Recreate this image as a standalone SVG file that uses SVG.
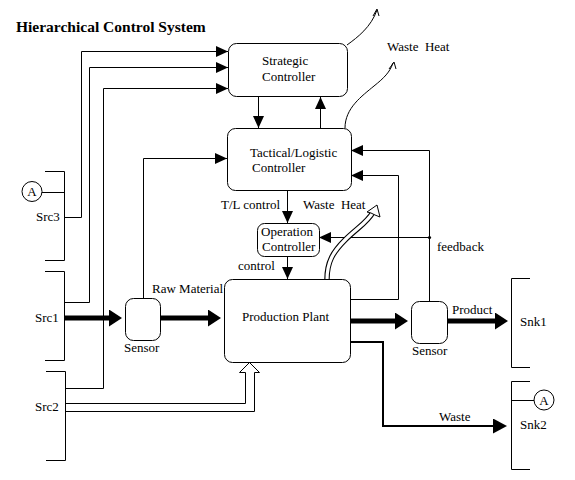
<svg xmlns="http://www.w3.org/2000/svg" width="575" height="480" viewBox="0 0 575 480">
<style>
text{font-family:"Liberation Serif","Times New Roman",serif;font-size:13px;fill:#000}
.title{font-size:15.5px;font-weight:bold}
.box{fill:#fff;stroke:#000;stroke-width:1}
.ln{fill:none;stroke:#000;stroke-width:1}
.thick{fill:none;stroke:#000;stroke-width:5}
.med{fill:none;stroke:#000;stroke-width:2}
</style>
<defs>
<marker id="a" viewBox="0 0 12 11" refX="12" refY="5.5" markerWidth="12" markerHeight="11" markerUnits="userSpaceOnUse" orient="auto"><path d="M0,0 L12,5.5 L0,11 z" fill="#000"/></marker>
<marker id="b" viewBox="0 0 13 17" refX="3" refY="8.5" markerWidth="13" markerHeight="17" markerUnits="userSpaceOnUse" orient="auto"><path d="M0,0 L13,8.5 L0,17 z" fill="#000"/></marker>
<marker id="c" viewBox="0 0 14 15" refX="4" refY="7.5" markerWidth="14" markerHeight="15" markerUnits="userSpaceOnUse" orient="auto"><path d="M0,0 L14,7.5 L0,15 z" fill="#000"/></marker>
</defs>
<rect width="575" height="480" fill="#fff"/>
<text class="title" x="16" y="32">Hierarchical Control System</text>

<g id="connectors">
<path class="ln" d="M64.5,217.5 H81.5 V51.5 H228" marker-end="url(#a)"/>
<path class="ln" d="M64.5,302.5 H89.5 V67.5 H228" marker-end="url(#a)"/>
<path class="ln" d="M65.5,388.5 H103.5 V88.5 H228" marker-end="url(#a)"/>
<path class="ln" d="M143.5,298 V158.5 H227" marker-end="url(#a)"/>
<path class="ln" d="M258.5,97 V128" marker-end="url(#a)"/>
<path class="ln" d="M320.5,128 V97" marker-end="url(#a)"/>
<path class="ln" d="M287.5,191 V223" marker-end="url(#a)"/>
<path class="ln" d="M287.5,256 V279" marker-end="url(#a)"/>
<path class="ln" d="M350,299.5 H398.5 V175.5 H351" marker-end="url(#a)"/>
<path class="ln" d="M429.5,301 V150.5 H351" marker-end="url(#a)"/>
<path class="ln" d="M429.5,237.5 H319" marker-end="url(#a)"/>
<circle cx="429.5" cy="237.5" r="1.6" fill="#000"/>
<path class="thick" d="M64,318 H112" marker-end="url(#b)"/>
<path class="thick" d="M160,318 H211" marker-end="url(#b)"/>
<path class="thick" d="M350,321 H398" marker-end="url(#b)"/>
<path class="thick" d="M447,321 H498" marker-end="url(#b)"/>
<path class="med" d="M350,342 H383 V426 H497" marker-end="url(#c)"/>
<path d="M65,403.5 H245.5 V372.5 H239.5 L249.5,362.5 L259.5,372.5 H254.5 V411.5 H65" fill="#fff" stroke="#000" stroke-width="1"/>
<path d="M327,279 C327,262 333,252 345,240 C357,228 368,222 373,212" fill="none" stroke="#000" stroke-width="5.4"/>
<path d="M327,280 C327,262 333,252 345,240 C357,228 368,222 373,212" fill="none" stroke="#fff" stroke-width="3.2"/>
<path d="M377,205 L367,212 L371,213 L375,215 L380,217 z" fill="#fff" stroke="#000" stroke-width="1"/>
<path class="ln" d="M347,45 C358,37 371,27 377,10"/>
<path class="ln" d="M373,16 L377,9 L379,16"/>
<path class="ln" d="M345,128 C345,108 362,96 374,86 C384,78 390,72 393,63"/>
<path class="ln" d="M389,69 L394,62 L396,69"/>
</g>

<g id="strategic">
<rect class="box" x="228.5" y="43.5" width="119" height="53" rx="8"/>
<text x="262" y="65">Strategic</text>
<text x="262" y="81">Controller</text>
</g>
<g id="tactical">
<rect class="box" x="227.5" y="128.5" width="124" height="62" rx="8"/>
<text x="250" y="157">Tactical/Logistic</text>
<text x="252" y="172">Controller</text>
</g>
<g id="operation">
<rect class="box" x="257.5" y="223.5" width="62" height="33" rx="7"/>
<text x="261" y="236">Operation</text>
<text x="262" y="251">Controller</text>
</g>
<g id="plant">
<rect class="box" x="224.5" y="279.5" width="126" height="83" rx="8"/>
<text x="242" y="321">Production Plant</text>
</g>
<g id="sensor1">
<rect class="box" x="125.5" y="298.5" width="35" height="42" rx="8"/>
<text x="124" y="352">Sensor</text>
</g>
<g id="sensor2">
<rect class="box" x="411.5" y="301.5" width="36" height="42" rx="8"/>
<text x="412" y="355">Sensor</text>
</g>
<g id="src3">
<path class="ln" d="M45,171.5 H64.5 V260.5 H45"/>
<path class="ln" d="M42,192.5 H64.5"/>
<circle cx="32" cy="191.5" r="10" fill="#fff" stroke="#000"/>
<text x="32" y="196" text-anchor="middle">A</text>
<text x="36" y="221">Src3</text>
</g>
<g id="src1">
<path class="ln" d="M45,271.5 H64.5 V360.5 H45"/>
<text x="35" y="322">Src1</text>
</g>
<g id="src2">
<path class="ln" d="M46,371.5 H65.5 V460.5 H46"/>
<text x="35" y="411">Src2</text>
</g>
<g id="snk1">
<path class="ln" d="M530,278.5 H511.5 V367.5 H530"/>
<text x="520" y="326">Snk1</text>
</g>
<g id="snk2">
<path class="ln" d="M530,381.5 H511.5 V469.5 H530"/>
<path class="ln" d="M511.5,400.5 H534"/>
<circle cx="544" cy="400" r="10" fill="#fff" stroke="#000"/>
<text x="544" y="405" text-anchor="middle">A</text>
<text x="520" y="429">Snk2</text>
</g>
<g id="labels">
<text x="387" y="51" xml:space="preserve">Waste  Heat</text>
<text x="303" y="209" xml:space="preserve">Waste  Heat</text>
<text x="221" y="209">T/L control</text>
<text x="238" y="270">control</text>
<text x="152" y="293">Raw Material</text>
<text x="437" y="251">feedback</text>
<text x="452" y="314">Product</text>
<text x="439" y="421">Waste</text>
</g>
</svg>
